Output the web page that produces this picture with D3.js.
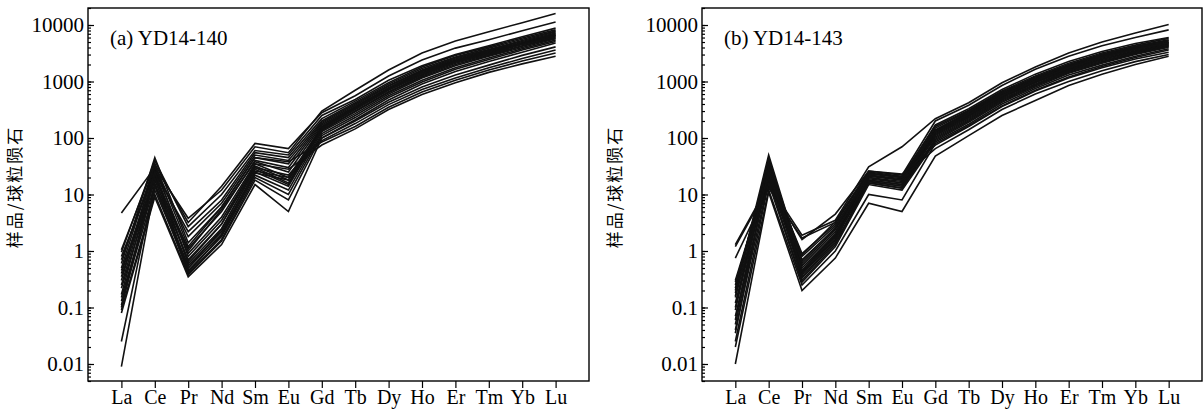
<!DOCTYPE html>
<html>
<head>
<meta charset="utf-8">
<script src="https://cdn.jsdelivr.net/npm/d3@7"></script>
<style>
  html, body { margin: 0; padding: 0; background: #fff; }
  svg { display: block; }
  .tick line { stroke: #000; stroke-width: 1.2; }
</style>
</head>
<body>
<svg id="chart" width="1203" height="410"></svg>
<script>
// REE names, chondrite normalised
var elements = ["La", "Ce", "Pr", "Nd", "Sm", "Eu", "Gd", "Tb", "Dy", "Ho", "Er", "Tm", "Yb", "Lu"];
var yTicks = [0.01, 0.1, 1, 10, 100, 1000, 10000];
var SERIF = "'Liberation Serif', 'Times New Roman', Times, serif";

// (a) YD14-140 spots
var seriesA = [
  [4.7, 30, 3.8, 12, 70, 55, 300, 700, 1600, 3200, 5200, 7600, 11000, 16000],
  [1.05, 35, 3.2, 14, 80, 65, 280, 560, 1250, 2400, 3900, 5500, 7900, 11300],
  [0.95, 40, 2.7, 10, 60, 50, 250, 480, 1050, 1900, 3000, 4300, 6200, 8800],
  [0.8, 25, 2.2, 8, 55, 45, 220, 450, 950, 1800, 2900, 4100, 5900, 8200],
  [0.7, 30, 1.8, 7, 50, 40, 200, 420, 900, 1700, 2700, 3900, 5600, 7800],
  [0.6, 45, 1.4, 6, 45, 35, 190, 400, 850, 1600, 2600, 3700, 5300, 7500],
  [0.45, 20, 1.1, 5, 40, 30, 180, 380, 820, 1550, 2500, 3600, 5100, 7200],
  [0.4, 28, 1.0, 5.5, 38, 25, 170, 360, 780, 1500, 2400, 3500, 4900, 7000],
  [0.35, 22, 0.9, 4, 35, 20, 160, 350, 760, 1450, 2350, 3400, 4800, 6800],
  [0.3, 32, 0.8, 3.5, 32, 18, 155, 340, 740, 1400, 2300, 3300, 4700, 6600],
  [0.22, 18, 0.7, 3, 30, 16, 150, 330, 720, 1350, 2250, 3200, 4600, 6500],
  [0.17, 26, 0.6, 2.5, 28, 15, 145, 320, 700, 1300, 2200, 3100, 4500, 6300],
  [0.15, 15, 0.55, 2.2, 25, 14, 140, 300, 660, 1250, 2100, 3000, 4300, 6100],
  [0.13, 12, 0.5, 2, 24, 18, 135, 290, 640, 1200, 2000, 2900, 4200, 5900],
  [0.11, 24, 0.45, 1.8, 22, 12, 130, 270, 600, 1150, 1900, 2800, 4000, 5700],
  [0.1, 20, 0.4, 1.6, 20, 10, 120, 250, 560, 1050, 1750, 2600, 3800, 5400],
  [0.09, 10, 0.38, 1.5, 18, 8, 110, 230, 520, 980, 1650, 2450, 3600, 5100],
  [0.08, 9, 0.35, 1.3, 15, 5, 100, 210, 470, 900, 1500, 2250, 3300, 4800],
  [0.025, 16, 0.5, 2.4, 30, 22, 100, 200, 430, 800, 1300, 1950, 2900, 4100],
  [0.009, 14, 0.42, 1.9, 26, 20, 90, 180, 390, 720, 1150, 1750, 2550, 3600],
  [0.5, 35, 1.2, 6, 45, 38, 85, 160, 350, 650, 1050, 1600, 2300, 3200],
  [0.25, 25, 0.65, 3, 35, 28, 75, 145, 320, 590, 950, 1450, 2050, 2800]
];

// (b) YD14-143 spots
var seriesB = [
  [1.3, 15, 1.9, 3.5, 31, 70, 220, 420, 950, 1800, 3200, 5000, 7200, 10200],
  [1.2, 14, 1.6, 4.5, 26, 22, 200, 380, 850, 1650, 2800, 4300, 6000, 8200],
  [0.75, 13, 1.7, 3.2, 24, 20, 170, 330, 720, 1350, 2250, 3400, 4700, 6000],
  [0.3, 25, 0.9, 3, 25, 21, 160, 310, 680, 1250, 2100, 3200, 4400, 5800],
  [0.25, 30, 0.8, 2.8, 22, 19, 150, 300, 650, 1200, 2000, 3050, 4200, 5500],
  [0.22, 40, 0.7, 2.5, 21, 18, 140, 290, 630, 1150, 1950, 2950, 4100, 5300],
  [0.2, 50, 0.6, 2.4, 20, 17, 135, 280, 610, 1120, 1900, 2850, 4000, 5200],
  [0.18, 35, 0.55, 2.2, 19, 16, 130, 270, 590, 1080, 1850, 2800, 3900, 5000],
  [0.15, 28, 0.5, 2, 18, 15, 125, 260, 570, 1050, 1800, 2700, 3800, 4900],
  [0.12, 22, 0.45, 1.9, 17, 14, 120, 250, 550, 1000, 1700, 2600, 3650, 4750],
  [0.1, 45, 0.42, 1.8, 16, 13, 115, 240, 530, 980, 1650, 2500, 3500, 4600],
  [0.09, 32, 0.4, 1.7, 18, 15, 110, 230, 510, 950, 1600, 2450, 3400, 4500],
  [0.07, 20, 0.38, 1.6, 20, 16, 105, 220, 490, 900, 1550, 2350, 3300, 4400],
  [0.06, 38, 0.35, 1.5, 22, 18, 100, 210, 470, 870, 1500, 2250, 3200, 4250],
  [0.05, 26, 0.33, 1.4, 17, 14, 95, 200, 450, 840, 1450, 2200, 3100, 4150],
  [0.04, 18, 0.3, 1.3, 16, 13, 90, 190, 430, 800, 1400, 2100, 3000, 4050],
  [0.035, 30, 0.45, 2, 24, 20, 130, 260, 560, 1020, 1750, 2650, 3700, 4850],
  [0.025, 16, 0.28, 1.2, 15, 12, 85, 175, 400, 750, 1300, 1950, 2800, 3800],
  [0.02, 12, 0.25, 1.0, 10, 8, 80, 165, 370, 700, 1200, 1850, 2650, 3600],
  [0.01, 11, 0.2, 0.75, 7, 5, 48, 110, 250, 460, 850, 1350, 2000, 2800],
  [0.28, 20, 0.85, 3.3, 26, 23, 75, 160, 360, 680, 1150, 1750, 2500, 3300],
  [0.16, 24, 0.65, 2.6, 23, 20, 65, 140, 320, 600, 1000, 1550, 2250, 3000]
];

var svg = d3.select("#chart");

function drawPanel(left, right, top, bottom, series, title, labelX) {
    var g = svg.append("g");

    var x = d3.scalePoint()
        .domain(elements)
        .range([left, right])
        .padding(1);

    var y = d3.scaleLog()
        .domain([0.005, 20000])
        .range([bottom, top]);

    // minor ticks, inward
    g.append("g")
        .attr("transform", "translate(" + left + ",0)")
        .call(d3.axisLeft(y).ticks(10).tickSize(-3).tickFormat(""))
        .call(function(s) { s.select(".domain").remove(); });

    // major ticks with labels
    var yAx = g.append("g")
        .attr("transform", "translate(" + left + ",0)")
        .call(d3.axisLeft(y).tickValues(yTicks).tickSize(-6).tickPadding(4)
            .tickFormat(function(d) { return String(d); }));
    yAx.select(".domain").remove();
    yAx.selectAll("text")
        .attr("font-family", SERIF)
        .attr("font-size", 21)
        .attr("fill", "#000");

    // x axis, ticks pointing out
    var xAx = g.append("g")
        .attr("transform", "translate(0," + bottom + ")")
        .call(d3.axisBottom(x).tickSize(7).tickSizeOuter(0).tickPadding(2));
    xAx.select(".domain").remove();
    xAx.selectAll("text")
        .attr("font-family", SERIF)
        .attr("font-size", 20)
        .attr("fill", "#000");

    var line = d3.line()
        .x(function(d, i) { return x(elements[i]); })
        .y(function(d) { return y(d); });

    g.append("g")
        .selectAll("path")
        .data(series)
        .enter()
        .append("path")
        .attr("d", line)
        .attr("fill", "none")
        .attr("stroke", "#111")
        .attr("stroke-width", 1.6)
        .attr("stroke-linejoin", "miter");

    // frame
    g.append("rect")
        .attr("x", left)
        .attr("y", top)
        .attr("width", right - left)
        .attr("height", bottom - top)
        .attr("fill", "none")
        .attr("stroke", "#000")
        .attr("stroke-width", 1.4);

    g.append("text")
        .attr("x", left + 22)
        .attr("y", top + 37)
        .attr("font-family", SERIF)
        .attr("font-size", 21)
        .text(title);

    g.append("text")
        .attr("text-anchor", "middle")
        .attr("font-family", "'Noto Sans CJK SC', sans-serif")
        .attr("font-size", 17)
        .attr("letter-spacing", 2)
        .attr("transform", "translate(" + labelX + "," + (top + bottom) / 2.08 + ") rotate(-90)")
        .text("样品/球粒陨石");
}

drawPanel(88, 589, 8, 381, seriesA, "(a) YD14-140", 21);
drawPanel(702, 1202, 8, 381, seriesB, "(b) YD14-143", 621);
</script>
</body>
</html>
